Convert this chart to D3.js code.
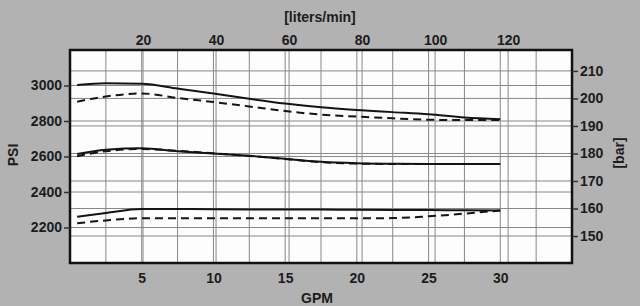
<!DOCTYPE html>
<meta charset="utf-8">
<script src="https://d3js.org/d3.v7.min.js"></script>
<style>
  body { margin: 0; background: #b2b2b2; }
  text { font-family: "Liberation Sans", Arial, sans-serif; font-weight: bold; fill: #1c1c1c; }
</style>
<div id="my_dataviz"></div>
<script>

var gpm = [0.5, 2.5, 5, 7.5, 10, 12.5, 15, 17.5, 20, 22.5, 25, 27.5, 30];

// pressure curves in PSI, solid and dashed pairs
var highSolid  = [3003, 3012, 3010, 2983, 2955, 2925, 2898, 2877, 2862, 2850, 2838, 2820, 2810];
var highDashed = [2909, 2938, 2955, 2930, 2907, 2882, 2856, 2836, 2825, 2815, 2807, 2805, 2806];
var midSolid   = [2614, 2638, 2646, 2630, 2617, 2604, 2588, 2570, 2562, 2559, 2558, 2558, 2558];
var midDashed  = [2602, 2630, 2642, 2632, 2618, 2603, 2586, 2568, 2560, 2558, 2558, 2558, 2558];
var lowSolid   = [2261, 2282, 2304, 2304, 2303, 2302, 2302, 2301, 2300, 2299, 2298, 2297, 2296];
var lowDashed  = [2224, 2240, 2252, 2252, 2252, 2252, 2252, 2252, 2252, 2253, 2263, 2278, 2296];

// tick labels
var gpmTicks = [5, 10, 15, 20, 25, 30];
var lpmTicks = [20, 40, 60, 80, 100, 120];
var psiTicks = [2200, 2400, 2600, 2800, 3000];
var barTicks = [150, 160, 170, 180, 190, 200, 210];

var width = 640, height = 306;
var margin = {left: 70, right: 572, top: 50, bottom: 263};

var svg = d3.select("#my_dataviz")
  .append("svg")
    .attr("width", width)
    .attr("height", height);

var x = d3.scaleLinear().domain([0, 35]).range([margin.left, margin.right]);
var xTop = d3.scaleLinear().domain([0, 137.5]).range([margin.left, margin.right]);
var y = d3.scaleLinear().domain([2000, 3200]).range([margin.bottom, margin.top]);
var yBar = d3.scaleLinear().domain([140.2, 217.6]).range([margin.bottom, margin.top]);

var pw = margin.right - margin.left, ph = margin.bottom - margin.top;

// white plot area
svg.append("rect")
  .attr("x", margin.left).attr("y", margin.top)
  .attr("width", pw).attr("height", ph)
  .attr("fill", "#fdfdfd");

// grid: every 2.5 GPM, every 20 l/min, every 200 PSI, every 10 bar
var grid = svg.append("g").attr("stroke", "#888").attr("stroke-width", 1);
grid.selectAll(".vg")
  .data(d3.range(2.5, 35, 2.5))
  .enter().append("line")
    .attr("x1", function(d) { return x(d); }).attr("x2", function(d) { return x(d); })
    .attr("y1", margin.top).attr("y2", margin.bottom);
grid.selectAll(".vl")
  .data(lpmTicks)
  .enter().append("line")
    .attr("x1", function(d) { return xTop(d); }).attr("x2", function(d) { return xTop(d); })
    .attr("y1", margin.top).attr("y2", margin.bottom);
grid.selectAll(".hp")
  .data(psiTicks)
  .enter().append("line")
    .attr("y1", function(d) { return y(d); }).attr("y2", function(d) { return y(d); })
    .attr("x1", margin.left).attr("x2", margin.right);
grid.selectAll(".hb")
  .data(barTicks)
  .enter().append("line")
    .attr("y1", function(d) { return yBar(d); }).attr("y2", function(d) { return yBar(d); })
    .attr("x1", margin.left).attr("x2", margin.right);

// curves
var line = d3.line()
  .x(function(d, i) { return x(gpm[i]); })
  .y(function(d) { return y(d); })
  .curve(d3.curveMonotoneX);

var series = [
  {values: highSolid, dash: null},
  {values: highDashed, dash: "8,5"},
  {values: midSolid, dash: null},
  {values: midDashed, dash: "8,5"},
  {values: lowSolid, dash: null},
  {values: lowDashed, dash: "8,5"}
];

svg.append("g")
  .selectAll("path")
  .data(series)
  .enter().append("path")
    .attr("d", function(d) { return line(d.values); })
    .attr("fill", "none")
    .attr("stroke", "#141414")
    .attr("stroke-width", 2)
    .attr("stroke-dasharray", function(d) { return d.dash; });

// frame
svg.append("rect")
  .attr("x", margin.left).attr("y", margin.top)
  .attr("width", pw).attr("height", ph)
  .attr("fill", "none")
  .attr("stroke", "#111")
  .attr("stroke-width", 2.5);

// axes
function styleAxis(g) {
  g.select(".domain").remove();
  g.selectAll("line").attr("stroke", "#333").attr("stroke-width", 1.5);
  g.selectAll("text").style("font-size", "14px").attr("fill", "#1c1c1c");
}

svg.append("g")
  .attr("transform", "translate(" + margin.left + ",0)")
  .call(d3.axisLeft(y).tickValues(psiTicks).tickFormat(d3.format("d")).tickSize(6).tickPadding(2))
  .call(styleAxis);

svg.append("g")
  .attr("transform", "translate(" + margin.right + ",0)")
  .call(d3.axisRight(yBar).tickValues(barTicks).tickSize(6).tickPadding(2))
  .call(styleAxis);

svg.append("g")
  .attr("transform", "translate(0," + margin.bottom + ")")
  .call(d3.axisBottom(x).tickValues(gpmTicks).tickSize(0).tickPadding(10))
  .call(styleAxis);

svg.append("g")
  .attr("transform", "translate(0," + margin.top + ")")
  .call(d3.axisTop(xTop).tickValues(lpmTicks).tickSize(0).tickPadding(5))
  .call(styleAxis);

// axis titles
svg.append("text")
  .attr("x", 320).attr("y", 22)
  .attr("text-anchor", "middle")
  .style("font-size", "14px")
  .text("[liters/min]");

svg.append("text")
  .attr("x", 317).attr("y", 303)
  .attr("text-anchor", "middle")
  .style("font-size", "14px")
  .text("GPM");

svg.append("text")
  .attr("transform", "translate(18,155) rotate(-90)")
  .attr("text-anchor", "middle")
  .style("font-size", "14px")
  .text("PSI");

svg.append("text")
  .attr("transform", "translate(624,153) rotate(-90)")
  .attr("text-anchor", "middle")
  .style("font-size", "14px")
  .text("[bar]");

</script>
